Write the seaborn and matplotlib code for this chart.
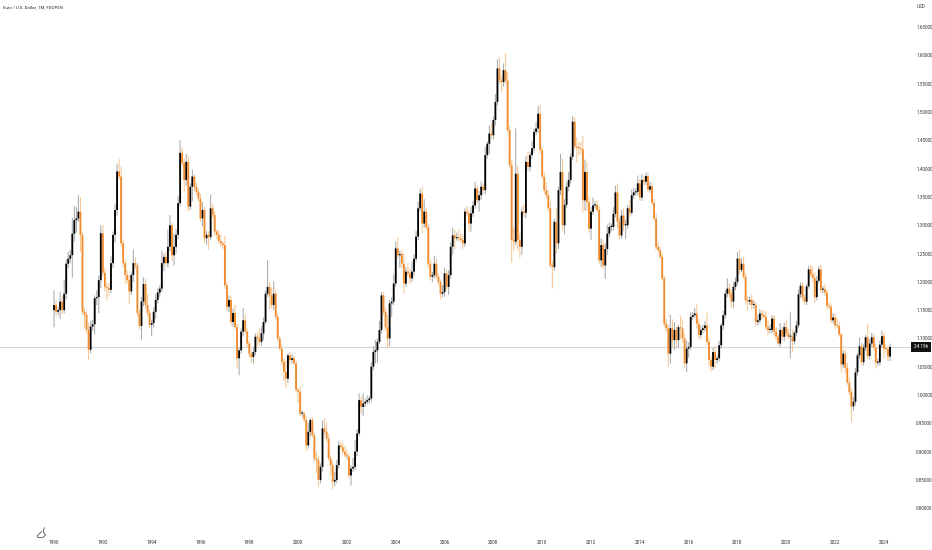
import numpy as np
import pandas as pd
import seaborn as sns
import matplotlib.pyplot as plt
from matplotlib.lines import Line2D

sns.set_theme(style="white")
plt.rcParams['font.family'] = ['Roboto', 'DejaVu Sans']

# monthly closes, one row per year, 1990 to 2024
closes = [
    1.159, 1.147, 1.150, 1.165, 1.150, 1.179, 1.232, 1.241, 1.247, 1.285, 1.309, 1.312,
    1.324, 1.283, 1.147, 1.142, 1.115, 1.080, 1.121, 1.125, 1.171, 1.173, 1.203, 1.286,
    1.216, 1.191, 1.189, 1.186, 1.233, 1.283, 1.327, 1.395, 1.386, 1.268, 1.233, 1.212,
    1.203, 1.183, 1.212, 1.233, 1.229, 1.145, 1.122, 1.165, 1.196, 1.159, 1.145, 1.124,
    1.127, 1.147, 1.168, 1.181, 1.188, 1.233, 1.244, 1.233, 1.262, 1.300, 1.247, 1.262,
    1.283, 1.339, 1.428, 1.410, 1.380, 1.412, 1.333, 1.368, 1.386, 1.368, 1.359, 1.347,
    1.312, 1.327, 1.277, 1.283, 1.279, 1.330, 1.318, 1.289, 1.283, 1.272, 1.268, 1.265,
    1.194, 1.156, 1.168, 1.129, 1.145, 1.120, 1.065, 1.079, 1.112, 1.132, 1.112, 1.091,
    1.073, 1.067, 1.076, 1.103, 1.100, 1.094, 1.109, 1.129, 1.179, 1.191, 1.176, 1.159,
    1.179, 1.138, 1.100, 1.082, 1.059, 1.041, 1.029, 1.070, 1.062, 1.065, 1.056, 1.009,
    1.006, 0.967, 0.967, 0.956, 0.911, 0.935, 0.956, 0.929, 0.888, 0.885, 0.850, 0.873,
    0.941, 0.935, 0.923, 0.888, 0.876, 0.847, 0.850, 0.876, 0.911, 0.908, 0.900, 0.894,
    0.891, 0.858, 0.870, 0.873, 0.900, 0.932, 0.991, 0.979, 0.985, 0.988, 0.991, 0.994,
    1.050, 1.076, 1.079, 1.094, 1.115, 1.176, 1.147, 1.120, 1.100, 1.162, 1.165, 1.197,
    1.259, 1.247, 1.249, 1.232, 1.197, 1.218, 1.215, 1.206, 1.218, 1.241, 1.280, 1.330,
    1.356, 1.303, 1.324, 1.297, 1.232, 1.209, 1.212, 1.232, 1.209, 1.200, 1.179, 1.182,
    1.215, 1.191, 1.212, 1.262, 1.282, 1.277, 1.279, 1.277, 1.274, 1.268, 1.324, 1.321,
    1.303, 1.321, 1.335, 1.365, 1.344, 1.353, 1.368, 1.362, 1.424, 1.444, 1.462, 1.459,
    1.486, 1.518, 1.577, 1.556, 1.553, 1.574, 1.556, 1.468, 1.406, 1.274, 1.271, 1.391,
    1.274, 1.262, 1.324, 1.322, 1.412, 1.403, 1.424, 1.436, 1.465, 1.471, 1.497, 1.433,
    1.386, 1.362, 1.353, 1.330, 1.229, 1.226, 1.306, 1.268, 1.362, 1.394, 1.300, 1.336,
    1.368, 1.380, 1.421, 1.483, 1.439, 1.437, 1.436, 1.434, 1.344, 1.394, 1.341, 1.294,
    1.324, 1.335, 1.336, 1.327, 1.238, 1.265, 1.229, 1.258, 1.285, 1.297, 1.297, 1.320,
    1.358, 1.306, 1.282, 1.317, 1.300, 1.300, 1.330, 1.322, 1.353, 1.358, 1.359, 1.374,
    1.349, 1.380, 1.377, 1.387, 1.363, 1.369, 1.339, 1.312, 1.262, 1.256, 1.244, 1.206,
    1.126, 1.118, 1.073, 1.118, 1.097, 1.115, 1.097, 1.120, 1.118, 1.100, 1.056, 1.082,
    1.085, 1.138, 1.141, 1.144, 1.126, 1.106, 1.115, 1.118, 1.123, 1.094, 1.062, 1.050,
    1.076, 1.062, 1.065, 1.088, 1.123, 1.141, 1.179, 1.188, 1.179, 1.165, 1.191, 1.200,
    1.241, 1.221, 1.232, 1.209, 1.168, 1.165, 1.168, 1.159, 1.159, 1.129, 1.132, 1.144,
    1.141, 1.138, 1.120, 1.115, 1.115, 1.135, 1.112, 1.103, 1.091, 1.115, 1.103, 1.120,
    1.109, 1.103, 1.103, 1.095, 1.110, 1.123, 1.178, 1.193, 1.172, 1.165, 1.192, 1.222,
    1.213, 1.207, 1.173, 1.202, 1.222, 1.186, 1.187, 1.181, 1.158, 1.156, 1.132, 1.137,
    1.123, 1.122, 1.107, 1.054, 1.073, 1.048, 1.022, 1.005, 0.980, 0.988, 1.040, 1.070,
    1.086, 1.058, 1.084, 1.102, 1.069, 1.091, 1.102, 1.084, 1.057, 1.058, 1.089, 1.104,
    1.082, 1.081, 1.068, 1.085,
]

# wick above the body, thousandths of a dollar
upper_wick = [
    26, 8, 6, 18, 10, 24, 8, 12, 10, 28, 25, 20,
    29, 25, 6, 8, 6, 12, 10, 8, 5, 12, 8, 14,
    14, 8, 6, 10, 12, 6, 10, 14, 22, 18, 6, 5,
    8, 10, 6, 24, 10, 4, 6, 8, 12, 10, 20, 5,
    6, 8, 10, 7, 6, 22, 6, 8, 30, 18, 4, 24,
    10, 12, 22, 10, 8, 14, 10, 6, 12, 4, 8, 6,
    8, 14, 6, 6, 6, 24, 8, 6, 4, 8, 12, 4,
    16, 6, 8, 7, 8, 14, 6, 5, 6, 22, 10, 5,
    4, 6, 8, 6, 8, 18, 12, 8, 6, 47, 8, 14,
    22, 8, 6, 5, 8, 6, 20, 4, 6, 7, 4, 6,
    4, 8, 6, 4, 6, 16, 4, 5, 4, 12, 8, 6,
    14, 18, 16, 8, 6, 8, 14, 10, 8, 6, 8, 10,
    10, 6, 6, 16, 20, 8, 12, 6, 18, 6, 8, 4,
    8, 10, 18, 6, 16, 6, 6, 6, 22, 6, 8, 16,
    12, 20, 6, 8, 18, 8, 16, 8, 18, 8, 10, 12,
    8, 12, 22, 8, 6, 8, 6, 14, 8, 6, 4, 12,
    10, 6, 8, 8, 14, 10, 8, 14, 8, 10, 6, 10,
    6, 12, 8, 12, 6, 8, 10, 6, 14, 4, 14, 18,
    6, 14, 16, 20, 8, 12, 30, 14, 8, 10, 22, 80,
    14, 12, 8, 12, 10, 18, 6, 12, 6, 12, 14, 16,
    6, 8, 14, 10, 12, 8, 6, 24, 6, 32, 24, 10,
    8, 14, 6, 10, 8, 16, 10, 12, 24, 22, 18, 10,
    8, 14, 6, 8, 8, 12, 8, 10, 16, 8, 6, 12,
    12, 16, 8, 10, 12, 10, 6, 14, 10, 8, 6, 14,
    8, 10, 8, 6, 6, 8, 6, 8, 8, 8, 6, 6,
    6, 8, 6, 24, 16, 14, 6, 4, 20, 16, 8, 14,
    8, 8, 6, 10, 16, 8, 8, 6, 8, 22, 8, 6,
    8, 10, 6, 8, 4, 8, 6, 18, 10, 6, 8, 8,
    12, 16, 10, 12, 6, 6, 6, 10, 8, 6, 10, 8,
    6, 8, 10, 12, 10, 6, 6, 8, 6, 12, 6, 8,
    14, 8, 44, 12, 4, 8, 8, 6, 6, 6, 4, 6,
    8, 14, 10, 8, 6, 8, 6, 8, 6, 6, 6, 8,
    6, 14, 8, 4, 6, 8, 8, 8, 8, 8, 8, 4,
    16, 6, 6, 4, 24, 8, 8, 6, 6, 6, 8, 10,
    6, 8, 6, 6,
]

# wick below the body, thousandths of a dollar
lower_wick = [
    30, 8, 6, 16, 6, 6, 10, 8, 8, 40, 14, 22,
    6, 30, 6, 24, 6, 18, 6, 8, 18, 12, 28, 14,
    6, 8, 22, 10, 6, 8, 14, 10, 6, 6, 8, 16,
    6, 22, 6, 12, 6, 6, 6, 24, 8, 6, 6, 6,
    20, 8, 12, 6, 8, 6, 14, 6, 8, 8, 10, 18,
    12, 8, 6, 6, 22, 10, 8, 6, 26, 8, 6, 6,
    6, 14, 8, 12, 22, 6, 6, 8, 8, 4, 6, 8,
    6, 8, 10, 6, 8, 4, 18, 30, 6, 8, 4, 6,
    6, 10, 12, 6, 14, 6, 8, 12, 4, 6, 24, 6,
    8, 6, 6, 4, 6, 16, 16, 8, 10, 6, 4, 6,
    20, 4, 6, 4, 10, 6, 8, 4, 6, 24, 12, 6,
    8, 6, 6, 4, 18, 14, 8, 6, 6, 4, 4, 4,
    6, 4, 18, 6, 6, 8, 4, 12, 16, 6, 4, 6,
    6, 6, 20, 22, 4, 6, 6, 6, 18, 14, 24, 6,
    6, 6, 22, 8, 18, 6, 6, 10, 6, 8, 6, 6,
    6, 18, 8, 6, 8, 6, 10, 6, 4, 6, 10, 6,
    8, 6, 14, 6, 14, 20, 4, 6, 4, 10, 6, 6,
    16, 14, 6, 6, 6, 20, 8, 6, 8, 6, 18, 6,
    8, 10, 6, 6, 18, 8, 6, 4, 6, 40, 16, 6,
    18, 20, 14, 8, 10, 6, 8, 6, 8, 6, 8, 6,
    4, 6, 6, 6, 4, 38, 6, 18, 10, 8, 10, 16,
    6, 8, 6, 6, 4, 26, 14, 8, 22, 18, 16, 8,
    20, 6, 6, 4, 6, 12, 6, 24, 10, 6, 8, 6,
    6, 12, 6, 6, 10, 24, 6, 8, 4, 6, 6, 6,
    6, 6, 6, 6, 4, 6, 4, 4, 6, 4, 4, 4,
    6, 6, 23, 18, 12, 18, 14, 14, 20, 8, 8, 16,
    16, 6, 6, 4, 8, 8, 6, 6, 6, 6, 10, 8,
    6, 14, 6, 6, 6, 8, 6, 6, 6, 10, 12, 6,
    6, 8, 4, 4, 8, 16, 6, 8, 6, 8, 6, 6,
    8, 4, 6, 10, 6, 6, 8, 6, 4, 6, 6, 8,
    6, 4, 38, 19, 6, 6, 4, 6, 6, 6, 6, 4,
    4, 8, 10, 6, 4, 6, 6, 6, 8, 4, 4, 6,
    6, 4, 4, 14, 6, 10, 4, 6, 27, 8, 6, 6,
    6, 6, 6, 6, 6, 6, 6, 6, 10, 6, 6, 6,
    16, 6, 8, 8,
]

first_open = 1.150
last_price = 1.085
price_ticks = [0.80, 0.85, 0.90, 0.95, 1.00, 1.05, 1.10, 1.15, 1.20, 1.25, 1.30,
               1.35, 1.40, 1.45, 1.50, 1.55, 1.60, 1.65]
year_labels = ['1990', '1992', '1994', '1996', '1998', '2000', '2002', '2004', '2006',
               '2008', '2010', '2012', '2014', '2016', '2018', '2020', '2022', '2024']

ORANGE = '#f08a2a'
INK = '#000000'

df = pd.DataFrame({'close': closes})
df['month'] = df.index
df['open'] = df['close'].shift(1).fillna(first_open)
df['top'] = df[['open', 'close']].max(axis=1)
df['base'] = df[['open', 'close']].min(axis=1)
df['high'] = df['top'] + np.array(upper_wick) / 1000
df['low'] = df['base'] - np.array(lower_wick) / 1000
df['rising'] = df['close'] >= df['open']

fig = plt.figure(figsize=(9.32, 5.5), dpi=100)
ax = fig.add_axes([0, 14 / 550, 912 / 932, 536 / 550])


def draw_candles(part, body_color, wick_color):
    # snap off, otherwise bars this thin land on whole pixels and come out uneven
    sns.barplot(data=part.assign(span=part['high'] - part['low']), x='month', y='span',
                bottom=part['low'].values, native_scale=True, errorbar=None, width=0.5,
                color=wick_color, saturation=1, linewidth=0, zorder=2, snap=False, ax=ax)
    sns.barplot(data=part.assign(span=(part['top'] - part['base']).clip(lower=0.002)),
                x='month', y='span', bottom=part['base'].values, native_scale=True,
                errorbar=None, width=0.9, color=body_color, saturation=1, linewidth=0,
                zorder=3, snap=False, ax=ax)


draw_candles(df[df['rising']], INK, '#a6a8ac')
draw_candles(df[~df['rising']], ORANGE, '#f5c692')

ax.axhline(last_price, color='#d6d6d6', linewidth=0.8, zorder=1)

ax.set_xlim(-26.55, 421.8)
ax.set_ylim(0.7509, 1.698)
ax.set_xlabel('')
ax.set_ylabel('')
ax.set_xticks(np.arange(0, 412, 24), year_labels)
ax.set_yticks(price_ticks, ['%.5f' % p for p in price_ticks])
ax.yaxis.tick_right()
ax.tick_params(axis='both', length=0, labelsize=3.3, labelcolor='#333333', pad=3)
sns.despine(ax=ax, left=True, bottom=True, right=True, top=True)

ax.text(3 / 932, 1 - 7 / 550, 'Euro / U.S. Dollar, 1M, FXOPEN', transform=fig.transFigure,
        fontsize=3.15, color='#222222', va='center', ha='left')
ax.text(921 / 932, 1 - 6 / 550, 'USD', transform=fig.transFigure, fontsize=3.3,
        color='#333333', va='center', ha='center')
ax.text(921 / 932, 1 - 347 / 550, '24 19h', transform=fig.transFigure, fontsize=3.3,
        color='white', va='center', ha='center',
        bbox=dict(boxstyle='square,pad=0.55', facecolor='#111111', edgecolor='none'))

# little outline mark bottom left
mark_x = [44.5, 43.5, 44, 45.5, 43, 38, 37, 40, 42]
mark_y = [527.5, 530, 533, 535, 537.5, 537.5, 536, 533, 531.5]
fig.add_artist(Line2D([x / 932 for x in mark_x], [1 - y / 550 for y in mark_y],
                      transform=fig.transFigure, color='#333333', linewidth=0.5))

fig.savefig('out.png', dpi=100, facecolor='white')
